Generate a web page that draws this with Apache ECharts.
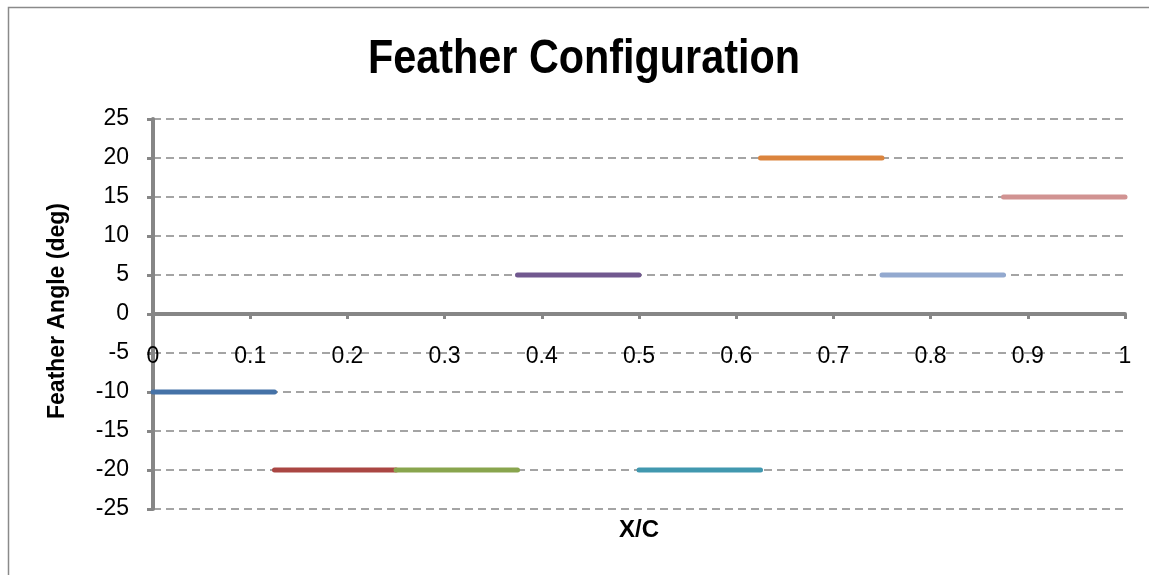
<!DOCTYPE html>
<html>
<head>
<meta charset="utf-8">
<script src="https://cdn.jsdelivr.net/npm/echarts@6/dist/echarts.min.js"></script>
<style>
  html, body { margin: 0; padding: 0; background: #fff; }
  #chart { width: 1149px; height: 575px; }
</style>
</head>
<body>
<div id="chart"></div>
<script>
// Piecewise feather angle along the chord
var segStart = [0, 0.125, 0.25, 0.375, 0.5, 0.625, 0.75, 0.875];
var segEnd   = [0.125, 0.25, 0.375, 0.5, 0.625, 0.75, 0.875, 1];
var angles   = [-10, -20, -20, 5, -20, 20, 5, 15];
var palette  = ['#4572A7', '#AA4643', '#89A54E', '#71588F', '#4198AF', '#DB843D', '#93A9CF', '#D19392'];

var sans = "'Liberation Sans', Arial, sans-serif";
var axisGray = '#868686';

var series = angles.map(function (a, i) {
  return {
    type: 'line',
    data: [[segStart[i], a], [segEnd[i], a]],
    showSymbol: false,
    symbol: 'none',
    lineStyle: { color: palette[i], width: 5, cap: 'round' },
    itemStyle: { color: palette[i] },
    z: 3 + i
  };
});

var chart = echarts.init(document.getElementById('chart'), null, { renderer: 'canvas' });
chart.setOption({
  animation: false,
  backgroundColor: '#fff',
  graphic: [
    {
      type: 'rect',
      shape: { x: 8.5, y: 7.5, width: 1300, height: 700 },
      style: { fill: null, stroke: '#8a8a8a', lineWidth: 1.5 },
      silent: true
    },
    {
      // chart title, condensed bold
      type: 'text',
      x: 584, y: 59,
      scaleX: 0.844,
      style: {
        text: 'Feather Configuration',
        font: "bold 49px 'Liberation Sans', Arial, sans-serif",
        fill: '#000', align: 'center', verticalAlign: 'middle'
      }
    },
    {
      // y axis title
      type: 'text',
      x: 58, y: 311,
      rotation: Math.PI / 2,
      style: {
        text: 'Feather Angle (deg)',
        font: "bold 23px 'Liberation Sans', Arial, sans-serif",
        fill: '#000', align: 'center', verticalAlign: 'middle'
      }
    },
    {
      // x axis title
      type: 'text',
      x: 639, y: 530,
      style: {
        text: 'X/C',
        font: "bold 24px 'Liberation Sans', Arial, sans-serif",
        fill: '#000', align: 'center', verticalAlign: 'middle'
      }
    }
  ],
  grid: { left: 153, right: 24, top: 119, bottom: 66, containLabel: false },
  xAxis: {
    type: 'value',
    position: 'bottom',
    offset: -195,
    min: 0, max: 1, interval: 0.1,
    axisLine: { onZero: false, lineStyle: { color: axisGray, width: 4 } },
    axisTick: { show: true, inside: false, length: 5, lineStyle: { color: axisGray, width: 3 } },
    axisLabel: {
      margin: 31,
      fontFamily: sans, fontSize: 23, color: '#000',
      showMinLabel: true, showMaxLabel: true,
      formatter: function (v) { return String(+v.toFixed(1)); }
    },
    splitLine: { show: false }
  },
  yAxis: {
    type: 'value',
    min: -25, max: 25, interval: 5,
    axisLine: { show: true, lineStyle: { color: axisGray, width: 4 } },
    axisTick: { show: true, length: 6, lineStyle: { color: axisGray, width: 3 } },
    axisLabel: { margin: 24, fontFamily: sans, fontSize: 23, color: '#000' },
    splitLine: { show: true, lineStyle: { color: axisGray, width: 1.5, type: [8, 5] } }
  },
  series: series
});
</script>
</body>
</html>
